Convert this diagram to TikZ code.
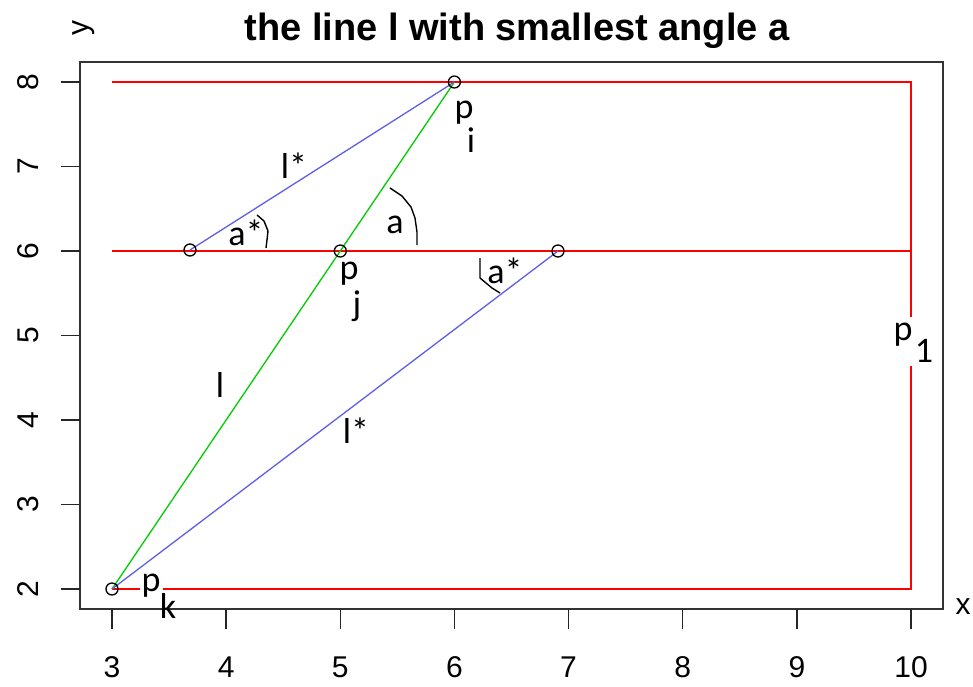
\documentclass[tikz,border=0pt]{standalone}
\usepackage{fontspec}
\setmainfont{Liberation Sans}
\newfontfamily\calfont{Carlito}
\definecolor{rred}{RGB}{255,0,0}
\definecolor{ggreen}{RGB}{0,205,0}
\definecolor{bblue}{RGB}{95,95,230}
\begin{document}
\begin{tikzpicture}[x=1pt,y=-1pt,
  redl/.style={draw=rred, line width=1.8pt},
  greenl/.style={draw=ggreen, line width=1.3pt},
  bluel/.style={draw=bblue, line width=1.3pt},
  boxl/.style={draw=black!80, line width=1.8pt},
  tickl/.style={draw=black!85, line width=1.5pt},
  arcl/.style={draw=black, line width=1.4pt, line join=round},
  ptc/.style={draw=black, line width=1.3pt, circle, minimum size=12pt, inner sep=0pt},
  ticklab/.style={font=\fontsize{30}{34}\selectfont, inner sep=0pt},
  ann/.style={font=\calfont\fontsize{36}{40}\selectfont, inner sep=0pt, anchor=base},
  sub/.style={font=\calfont\fontsize{36}{40}\selectfont, inner sep=0pt, anchor=base}
]
\useasboundingbox (0,0) rectangle (973,686);
\fill[white] (0,0) rectangle (973,686);

% data points (pixel coordinates)
\coordinate (pi) at (454.4,82);
\coordinate (pj) at (340.3,251);
\coordinate (pk) at (112,589);
\coordinate (qa) at (190,250);
\coordinate (qb) at (558,251);
\coordinate (t3) at (112,82);
\coordinate (t10) at (911,82);
\coordinate (m3) at (112,251);
\coordinate (m10) at (911,251);
\coordinate (b10) at (911,589);
\coordinate (g1a) at (911,317);
\coordinate (g1b) at (911,366);
\coordinate (gka) at (140,589);
\coordinate (gkb) at (163,589);

% plot box
\draw[boxl] (80,61.7) rectangle (943,609.3);

% axes ticks and labels
\foreach \v [count=\i from 0] in {3,...,10} {
  \draw[tickl] ({112+\i*114.143},609.3) -- ({112+\i*114.143},629);
  \node[ticklab] (xl\v) at ({112+\i*114.143},667) {\v};
}
\foreach \v [count=\i from 0] in {2,...,8} {
  \draw[tickl] (80,{589-\i*84.5}) -- (61,{589-\i*84.5});
  \node[ticklab, rotate=90] (yl\v) at (28,{589-\i*84.5}) {\v};
}
\node[ticklab, rotate=90] (ylab) at (84,28) {y};
\node[ticklab] (xlab) at (963,607) {x};

% title
\node[font=\fontsize{38}{44}\selectfont\bfseries, inner sep=0pt, anchor=base] (title) at (517,40) {the line l with smallest angle a};

% red lines
\draw[redl] (t3) -- (t10) -- (g1a);
\draw[redl] (g1b) -- (b10) -- (gkb);
\draw[redl] (pk) -- (gka);
\draw[redl] (m3) -- (m10);

% green line
\draw[greenl] (pk) -- (pi);

% blue lines
\draw[bluel] (qa) -- (pi);
\draw[bluel] (pk) -- (qb);

% angle arcs
\draw[arcl] (390,188) -- (402,196) -- (411,207) -- (415,218) -- (417,232) -- (417,245);
\draw[arcl] (257,215) -- (264,221) -- (268,231) -- (267,240) -- (266,248);
\draw[arcl] (480,258) -- (480,278) -- (492,288) -- (500,293);

% points
\foreach \p in {pi,pj,pk,qa,qb} \node[ptc] (c\p) at (\p) {};

% labels
\node[ann] (lpi) at (464,118) {p};
\node[sub] (lii) at (471,152) {i};
\node[ann] (lpj) at (349,279) {p};
\node[sub] (ljj) at (357,315) {j};
\node[ann] (lpk) at (151,591) {p};
\node[sub] (lkk) at (168,618) {k};
\node[ann] (lp1) at (903,340) {p};
\node[sub] (l11) at (924,362) {1};
\node[ann] (la) at (395,233) {a};
\node[ann] (las1) at (246,245) {a*};
\node[ann] (las2) at (505,283) {a*};
\node[ann] (lls1) at (294,178) {l*};
\node[ann] (ll) at (220,397) {l};
\node[ann] (lls2) at (356,443) {l*};
\end{tikzpicture}
\end{document}
